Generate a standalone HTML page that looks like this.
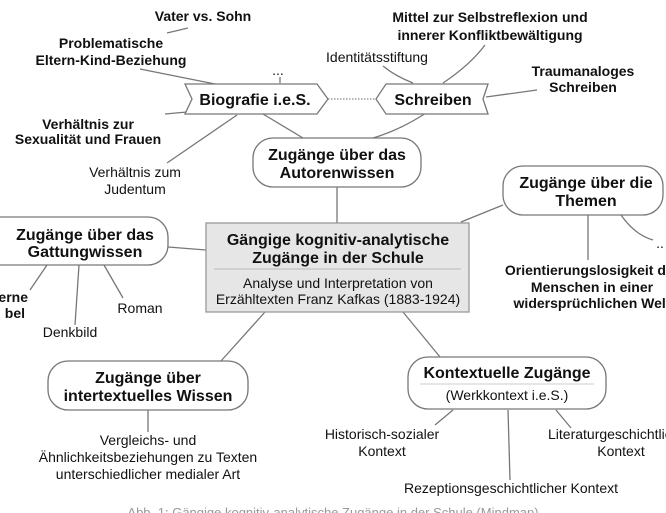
<!DOCTYPE html>
<html><head><meta charset="utf-8"><style>
html,body{margin:0;padding:0;background:#fff;}
svg{display:block;font-family:"Liberation Sans",Arial,sans-serif;}
.b{font-weight:bold;font-size:14px;fill:#111;}
.n{font-size:14px;fill:#111;}
.t{font-weight:bold;font-size:16px;fill:#111;}
.l{stroke:#777;stroke-width:1.3;fill:none;}
.bx{fill:#fff;stroke:#777;stroke-width:1.3;}
</style></head><body>
<svg width="666" height="513" viewBox="0 0 666 513" xmlns="http://www.w3.org/2000/svg">
<g text-anchor="middle">
<line class="l" x1="167" y1="33" x2="188" y2="28"/>
<line class="l" x1="140" y1="69" x2="215" y2="84"/>
<line class="l" x1="280" y1="77" x2="280" y2="83"/>
<line class="l" x1="165" y1="114" x2="187" y2="112"/>
<line class="l" x1="167" y1="163" x2="237" y2="115"/>
<line class="l" x1="263" y1="114" x2="303" y2="138"/>
<line x1="328" y1="99" x2="376" y2="99" stroke="#888" stroke-width="1.2" stroke-dasharray="1.5,1.5"/>
<path class="l" d="M383 66 Q395 76 413 83"/>
<path class="l" d="M485 45 Q470 65 443 83"/>
<line class="l" x1="537" y1="90" x2="486" y2="97"/>
<path class="l" d="M426 113 Q400 130 373 138"/>
<line class="l" x1="337" y1="187" x2="337" y2="223" stroke-width="1.8"/>
<line class="l" x1="461" y1="222" x2="503" y2="205" stroke-width="1.8"/>
<line class="l" x1="588" y1="215" x2="588" y2="260"/>
<path class="l" d="M621 215 Q635 235 653 240"/>
<line class="l" x1="168" y1="247" x2="206" y2="250" stroke-width="1.8"/>
<line class="l" x1="47" y1="265" x2="30" y2="290"/>
<line class="l" x1="79" y1="265" x2="75" y2="325"/>
<line class="l" x1="104" y1="265" x2="123" y2="298"/>
<line class="l" x1="265" y1="312" x2="221" y2="361" stroke-width="1.8"/>
<line class="l" x1="403" y1="312" x2="440" y2="357" stroke-width="1.8"/>
<line class="l" x1="148" y1="410" x2="148" y2="432"/>
<line class="l" x1="453" y1="410" x2="435" y2="425"/>
<line class="l" x1="508" y1="410" x2="510" y2="480"/>
<line class="l" x1="556" y1="410" x2="571" y2="428"/>

<path class="bx" d="M185 84 L317 84 L328 99 L317 114 L185 114 L192 99 Z"/>
<path class="bx" d="M386 84 L488 84 L483 99 L488 114 L386 114 L376 99 Z"/>
<rect class="bx" x="253" y="138" width="168" height="49" rx="20"/>
<rect class="bx" x="503" y="166" width="160" height="49" rx="20"/>
<rect class="bx" x="-25" y="217" width="193" height="48" rx="20"/>
<rect x="206" y="223" width="263" height="89" fill="#e6e6e6" stroke="#999" stroke-width="1.3"/>
<line x1="214" y1="269" x2="461" y2="269" stroke="#bbb" stroke-width="1"/>
<rect class="bx" x="48" y="361" width="200" height="49" rx="20"/>
<rect class="bx" x="408" y="357" width="198" height="52" rx="20"/>
<line x1="420" y1="384" x2="594" y2="384" stroke="#ccc" stroke-width="1"/>

<text class="b" x="203" y="21">Vater vs. Sohn</text>
<text class="b" x="111" y="48">Problematische</text>
<text class="b" x="111" y="65">Eltern-Kind-Beziehung</text>
<text class="n" x="278" y="75" font-size="11">...</text>
<text class="t" x="255" y="105" font-size="15">Biografie i.e.S.</text>
<text class="t" x="433" y="105" font-size="15">Schreiben</text>
<text class="n" x="377" y="62" font-size="13">Identitätsstiftung</text>
<text class="b" x="490" y="22">Mittel zur Selbstreflexion und</text>
<text class="b" x="490" y="40">innerer Konfliktbewältigung</text>
<text class="b" x="583" y="76">Traumanaloges</text>
<text class="b" x="583" y="92">Schreiben</text>
<text class="b" x="88" y="129">Verhältnis zur</text>
<text class="b" x="88" y="144">Sexualität und Frauen</text>
<text class="n" x="135" y="177">Verhältnis zum</text>
<text class="n" x="135" y="194">Judentum</text>
<text class="t" x="337" y="160">Zugänge über das</text>
<text class="t" x="337" y="178">Autorenwissen</text>
<text class="t" x="586" y="188">Zugänge über die</text>
<text class="t" x="586" y="206">Themen</text>
<text class="n" x="660" y="248">..</text>
<text class="b" x="592" y="275" font-size="15">Orientierungslosigkeit der</text>
<text class="b" x="592" y="292" font-size="15">Menschen in einer</text>
<text class="b" x="592" y="308" font-size="15">widersprüchlichen Welt</text>
<text class="t" x="85" y="240">Zugänge über das</text>
<text class="t" x="85" y="257">Gattungwissen</text>
<text class="b" x="0" y="302" text-anchor="end" dx="28">erne</text>
<text class="b" x="0" y="318" text-anchor="end" dx="25">bel</text>
<text class="n" x="70" y="337">Denkbild</text>
<text class="n" x="140" y="313">Roman</text>
<text class="t" x="338" y="245">Gängige kognitiv-analytische</text>
<text class="t" x="338" y="263">Zugänge in der Schule</text>
<text class="n" x="338" y="288">Analyse und Interpretation von</text>
<text class="n" x="338" y="304">Erzähltexten Franz Kafkas (1883-1924)</text>
<text class="t" x="148" y="383">Zugänge über</text>
<text class="t" x="148" y="401">intertextuelles Wissen</text>
<text class="n" x="148" y="445">Vergleichs- und</text>
<text class="n" x="148" y="462">Ähnlichkeitsbeziehungen zu Texten</text>
<text class="n" x="148" y="479">unterschiedlicher medialer Art</text>
<text class="t" x="507" y="378" font-size="15">Kontextuelle Zugänge</text>
<text class="n" x="507" y="400" font-size="11">(Werkkontext i.e.S.)</text>
<text class="n" x="382" y="439">Historisch-sozialer</text>
<text class="n" x="382" y="456">Kontext</text>
<text class="n" x="548" y="439" text-anchor="start">Literaturgeschichtlicher</text>
<text class="n" x="621" y="456">Kontext</text>
<text class="n" x="511" y="493">Rezeptionsgeschichtlicher Kontext</text>
<text x="333" y="517" font-size="13" fill="#999">Abb. 1: Gängige kognitiv-analytische Zugänge in der Schule (Mindmap)</text>
</g>
</svg>
</body></html>
